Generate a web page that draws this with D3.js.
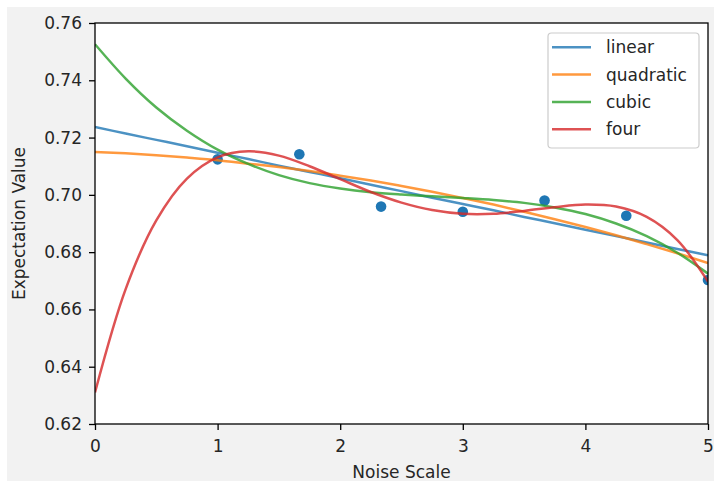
<!DOCTYPE html>
<html>
<head>
<meta charset="utf-8">
<script src="https://cdn.jsdelivr.net/npm/d3@7"></script>
<style>
  html, body { margin: 0; padding: 0; background: #ffffff; }
  svg { display: block; font-family: "DejaVu Sans", sans-serif; }
</style>
</head>
<body>
<svg id="chart" width="714" height="481"></svg>
<script>
// ---- data ----
const pointX = [1, 1.6667, 2.3333, 3, 3.6667, 4.3333, 5];
const pointY = [0.7124, 0.7142, 0.6959, 0.6941, 0.6980, 0.6927, 0.6703];

const curveX = [0, 0.25, 0.5, 0.75, 1, 1.25, 1.5, 1.75, 2, 2.25, 2.5, 2.75, 3, 3.25, 3.5, 3.75, 4, 4.25, 4.5, 4.75, 5];
const linearY    = [0.7237, 0.7214, 0.7192, 0.7170, 0.7147, 0.7125, 0.7102, 0.7080, 0.7058, 0.7035, 0.7013, 0.6990, 0.6968, 0.6946, 0.6923, 0.6901, 0.6878, 0.6856, 0.6834, 0.6811, 0.6789];
const quadraticY = [0.7150, 0.7145, 0.7138, 0.7130, 0.7121, 0.7109, 0.7097, 0.7083, 0.7067, 0.7050, 0.7031, 0.7011, 0.6989, 0.6966, 0.6941, 0.6915, 0.6888, 0.6859, 0.6828, 0.6796, 0.6762];
const cubicY     = [0.7526, 0.7406, 0.7305, 0.7224, 0.7158, 0.7108, 0.7069, 0.7041, 0.7022, 0.7009, 0.7001, 0.6995, 0.6989, 0.6982, 0.6972, 0.6956, 0.6933, 0.6900, 0.6856, 0.6798, 0.6725];
const fourY      = [0.6310, 0.6671, 0.6911, 0.7057, 0.7131, 0.7152, 0.7137, 0.7100, 0.7055, 0.7010, 0.6973, 0.6947, 0.6934, 0.6934, 0.6944, 0.6957, 0.6966, 0.6959, 0.6923, 0.6842, 0.6697];

const seriesNames  = ["linear", "quadratic", "cubic", "four"];
const seriesValues = [linearY, quadraticY, cubicY, fourY];
const seriesColors = ["#1f77b4", "#ff7f0e", "#2ca02c", "#d62728"];

const xTicks = [0, 1, 2, 3, 4, 5];
const yTicks = [0.62, 0.64, 0.66, 0.68, 0.70, 0.72, 0.74, 0.76];
const xLabel = "Noise Scale";
const yLabel = "Expectation Value";

// ---- layout ----
const L = 95, R = 708, T = 23, B = 424;
const svg = d3.select("#chart");

svg.append("rect").attr("x", 7).attr("y", 7).attr("width", 707).attr("height", 474).attr("fill", "#f2f2f2");
svg.append("rect").attr("x", L).attr("y", T).attr("width", R - L).attr("height", B - T).attr("fill", "#ffffff");

const x = d3.scaleLinear().domain([0, 5]).range([L, R]);
const y = d3.scaleLinear().domain([0.62, 0.76]).range([B, T]);

svg.append("defs").append("clipPath").attr("id", "clip")
  .append("rect").attr("x", L).attr("y", T).attr("width", R - L).attr("height", B - T);

// scatter (drawn under lines, as matplotlib does)
svg.append("g").attr("clip-path", "url(#clip)")
  .selectAll("circle").data(pointX.map((d, i) => [d, pointY[i]])).join("circle")
  .attr("cx", d => x(d[0])).attr("cy", d => y(d[1])).attr("r", 5.3)
  .attr("fill", "#1f77b4");

const line = d3.line().x(d => x(d[0])).y(d => y(d[1])).curve(d3.curveCatmullRom.alpha(0.5));
const gl = svg.append("g").attr("clip-path", "url(#clip)");
seriesValues.forEach((vals, i) => {
  gl.append("path")
    .datum(curveX.map((d, j) => [d, vals[j]]))
    .attr("d", line)
    .attr("fill", "none")
    .attr("stroke", seriesColors[i])
    .attr("stroke-opacity", 0.8)
    .attr("stroke-width", 2.5)
    .attr("stroke-linejoin", "round")
    .attr("stroke-linecap", "butt");
});

// axes
const fontSize = 17;
const xAxis = svg.append("g").attr("transform", `translate(0,${B})`)
  .call(d3.axisBottom(x).tickValues(xTicks).tickFormat(d3.format("d")).tickSize(6).tickPadding(10).tickSizeOuter(0));
const yAxis = svg.append("g").attr("transform", `translate(${L},0)`)
  .call(d3.axisLeft(y).tickValues(yTicks).tickFormat(d3.format(".2f")).tickSize(6).tickPadding(7).tickSizeOuter(0));
[xAxis, yAxis].forEach(g => {
  g.select(".domain").remove();
  g.selectAll(".tick line").attr("stroke", "#000").attr("stroke-width", 1.3);
  g.selectAll(".tick text").attr("fill", "#262626").style("font-size", fontSize + "px").style("font-family", "DejaVu Sans");
});

// spines
svg.append("rect").attr("x", L).attr("y", T).attr("width", R - L).attr("height", B - T)
  .attr("fill", "none").attr("stroke", "#000").attr("stroke-width", 1.3);

// axis labels
svg.append("text").attr("x", (L + R) / 2).attr("y", 477.5).attr("text-anchor", "middle")
  .attr("fill", "#262626").style("font-size", fontSize + "px").text(xLabel);
svg.append("text").attr("transform", `translate(25,${(T + B) / 2}) rotate(-90)`).attr("text-anchor", "middle")
  .attr("fill", "#262626").style("font-size", fontSize + "px").text(yLabel);

// legend
const lg = svg.append("g");
lg.append("rect").attr("x", 548).attr("y", 33).attr("width", 151).attr("height", 115).attr("rx", 3.5)
  .attr("fill", "#ffffff").attr("fill-opacity", 0.8).attr("stroke", "#cccccc").attr("stroke-width", 1.2);
seriesNames.forEach((name, i) => {
  const yy = 47.3 + i * 27.3;
  lg.append("line").attr("x1", 552).attr("x2", 591).attr("y1", yy).attr("y2", yy)
    .attr("stroke", seriesColors[i]).attr("stroke-opacity", 0.8).attr("stroke-width", 2.5);
  lg.append("text").attr("x", 606).attr("y", yy).attr("dy", "0.35em")
    .attr("fill", "#262626").style("font-size", fontSize + "px").text(name);
});
</script>
</body>
</html>
